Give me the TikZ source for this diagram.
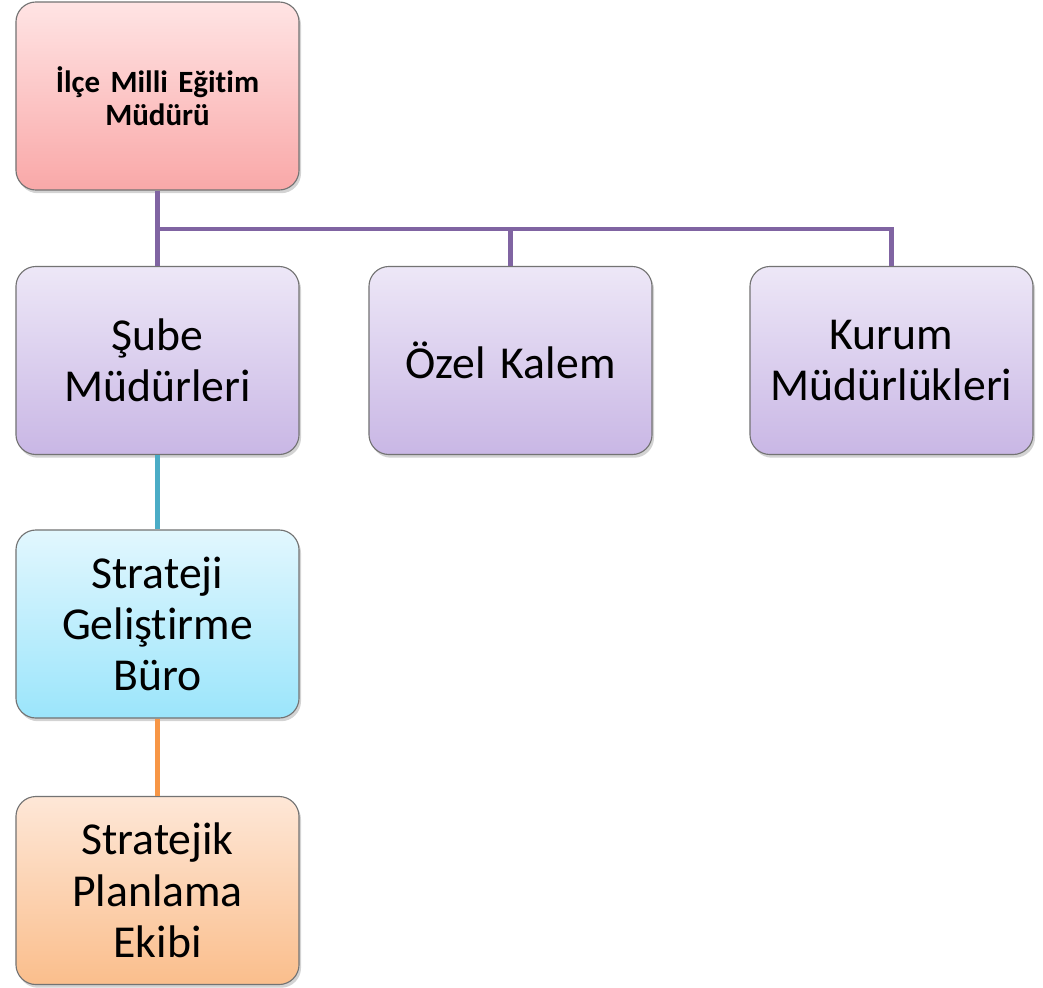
\documentclass[tikz,border=0pt]{standalone}
\usepackage{fontspec}
\setmainfont[Ligatures=NoCommon]{Carlito}
\usetikzlibrary{shadows}
\definecolor{pinktop}{RGB}{255,228,228}
\definecolor{pinkbot}{RGB}{249,168,168}
\definecolor{lilactop}{RGB}{237,231,247}
\definecolor{lilacbot}{RGB}{201,183,229}
\definecolor{cyantop}{RGB}{226,247,254}
\definecolor{cyanbot}{RGB}{155,229,251}
\definecolor{peachtop}{RGB}{254,231,215}
\definecolor{peachbot}{RGB}{250,190,140}
\definecolor{purpleline}{RGB}{128,100,162}
\definecolor{cyanline}{RGB}{75,172,198}
\definecolor{orangeline}{RGB}{247,150,70}
\tikzset{
  unit/.style={draw=black!55,line width=0.8pt,rounded corners=0.5cm,
    minimum width=7.075cm,minimum height=4.7cm,inner xsep=0.2cm,
    text width=6.675cm,align=center,
    drop shadow={shadow xshift=0.05cm,shadow yshift=-0.08cm,opacity=0.35},
    font=\fontsize{32.5}{36.5}\selectfont},
  link/.style={line width=3.5pt}
}
\begin{document}
\begin{tikzpicture}[x=0.025cm,y=-0.025cm]
\useasboundingbox(0,0)rectangle(1043,987);
\node[unit,top color=pinktop,bottom color=pinkbot,font=\fontsize{22}{23.5}\selectfont\bfseries](mudur)at(157.5,96){İlçe Milli Eğitim\\Müdürü};
\node[unit,top color=lilactop,bottom color=lilacbot](sube)at(157.5,360.5){Şube\\Müdürleri};
\node[unit,top color=lilactop,bottom color=lilacbot](kalem)at(510.5,360.5){Özel Kalem};
\node[unit,top color=lilactop,bottom color=lilacbot](kurum)at(891.5,360.5){Kurum\\Müdürlükleri};
\node[unit,top color=cyantop,bottom color=cyanbot](buro)at(157.5,624){Strateji\\Geliştirme\\Büro};
\node[unit,top color=peachtop,bottom color=peachbot](ekip)at(157.5,890.5){Stratejik\\Planlama\\Ekibi};
\coordinate(bus)at(157.5,229);
\draw[link,purpleline](mudur.south)--(sube.north);
\draw[link,purpleline](bus)-|(kalem.north);
\draw[link,purpleline](bus)-|(kurum.north);
\draw[link,cyanline](sube.south)--(buro.north);
\draw[link,orangeline](buro.south)--(ekip.north);
\end{tikzpicture}
\end{document}
